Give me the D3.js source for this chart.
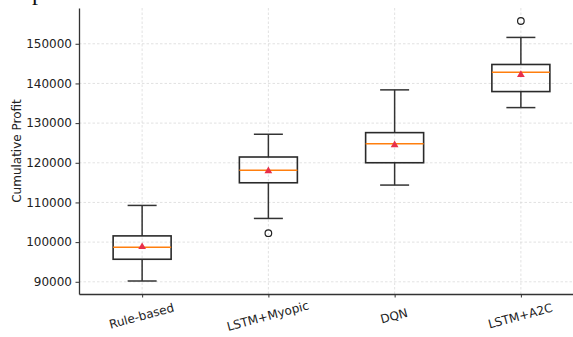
<!DOCTYPE html>
<html>
<head>
<meta charset="utf-8">
<script src="https://cdn.jsdelivr.net/npm/d3@7"></script>
<style>
  body { margin: 0; background: #fff; }
  svg { display: block; font-family: "DejaVu Sans", sans-serif; }
  .axis path, .axis line { stroke: #333; }
  .axis text { fill: #222; font-size: 12px; font-family: "DejaVu Sans", sans-serif; }
</style>
</head>
<body>
<div id="chart"></div>
<script>
var categories = ["Rule-based", "LSTM+Myopic", "DQN", "LSTM+A2C"];
var whiskerLow = [90200, 105970, 114380, 133910];
var q1 = [95680, 114960, 120010, 137950];
var medians = [98700, 118090, 124800, 142850];
var q3 = [101570, 121455, 127600, 144780];
var whiskerHigh = [109250, 127190, 138380, 151600];
var means = [98800, 117950, 124500, 142200];
var outliers = [[], [102250], [], [155740]];
var yTicks = [90000, 100000, 110000, 120000, 130000, 140000, 150000];

var width = 573, height = 337;
var margin = {top: 8, left: 79, bottom: 43};

var svg = d3.select("#chart").append("svg")
    .attr("width", width)
    .attr("height", height);

// x: boxplot positions 1..4, xlim 0.5..4.5 (right side runs past the crop)
var x = d3.scaleLinear().domain([0.5, 4.5]).range([margin.left, 584]);
var y = d3.scaleLinear().domain([86923, 159017]).range([height - margin.bottom, margin.top]);

var data = categories.map(function(c, i) {
  return {
    label: c, pos: i + 1,
    lo: whiskerLow[i], q1: q1[i], med: medians[i], q3: q3[i],
    hi: whiskerHigh[i], mean: means[i], fliers: outliers[i]
  };
});

// stray glyph from the page above the figure
svg.append("text")
    .attr("x", 32).attr("y", 0)
    .style("font-family", "Liberation Serif, serif")
    .style("font-size", "24px")
    .attr("fill", "#111")
    .text("p");

// grid
var grid = svg.append("g").attr("class", "grid");
grid.selectAll("line.h").data(yTicks).enter().append("line")
    .attr("class", "h")
    .attr("x1", margin.left).attr("x2", width)
    .attr("y1", function(d) { return y(d); })
    .attr("y2", function(d) { return y(d); });
grid.selectAll("line.v").data(data).enter().append("line")
    .attr("class", "v")
    .attr("x1", function(d) { return x(d.pos); })
    .attr("x2", function(d) { return x(d.pos); })
    .attr("y1", margin.top).attr("y2", height - margin.bottom);
grid.selectAll("line")
    .attr("stroke", "#dadada")
    .attr("stroke-width", 0.8)
    .attr("stroke-dasharray", "2.5,2");

// boxes
var boxW = 58, capW = 29;
var g = svg.append("g").selectAll("g.box").data(data).enter()
  .append("g").attr("class", "box");

g.append("line")
    .attr("x1", function(d) { return x(d.pos); })
    .attr("x2", function(d) { return x(d.pos); })
    .attr("y1", function(d) { return y(d.hi); })
    .attr("y2", function(d) { return y(d.q3); });
g.append("line")
    .attr("x1", function(d) { return x(d.pos); })
    .attr("x2", function(d) { return x(d.pos); })
    .attr("y1", function(d) { return y(d.q1); })
    .attr("y2", function(d) { return y(d.lo); });
g.append("line")
    .attr("x1", function(d) { return x(d.pos) - capW / 2; })
    .attr("x2", function(d) { return x(d.pos) + capW / 2; })
    .attr("y1", function(d) { return y(d.hi); })
    .attr("y2", function(d) { return y(d.hi); });
g.append("line")
    .attr("x1", function(d) { return x(d.pos) - capW / 2; })
    .attr("x2", function(d) { return x(d.pos) + capW / 2; })
    .attr("y1", function(d) { return y(d.lo); })
    .attr("y2", function(d) { return y(d.lo); });
g.selectAll("line").attr("stroke", "#333").attr("stroke-width", 1.5);

g.append("rect")
    .attr("x", function(d) { return x(d.pos) - boxW / 2; })
    .attr("width", boxW)
    .attr("y", function(d) { return y(d.q3); })
    .attr("height", function(d) { return y(d.q1) - y(d.q3); })
    .attr("fill", "none")
    .attr("stroke", "#2a2a2a")
    .attr("stroke-width", 1.6);

g.append("line")
    .attr("x1", function(d) { return x(d.pos) - boxW / 2; })
    .attr("x2", function(d) { return x(d.pos) + boxW / 2; })
    .attr("y1", function(d) { return y(d.med); })
    .attr("y2", function(d) { return y(d.med); })
    .attr("stroke", "#ff7f0e")
    .attr("stroke-width", 1.5);

g.append("path")
    .attr("d", d3.symbol().type(d3.symbolTriangle).size(26))
    .attr("transform", function(d) { return "translate(" + x(d.pos) + "," + y(d.mean) + ")"; })
    .attr("fill", "#e8304a");

g.selectAll("circle")
    .data(function(d) { return d.fliers.map(function(v) { return {pos: d.pos, v: v}; }); })
    .enter().append("circle")
    .attr("cx", function(d) { return x(d.pos); })
    .attr("cy", function(d) { return y(d.v); })
    .attr("r", 3.3)
    .attr("fill", "none")
    .attr("stroke", "#222")
    .attr("stroke-width", 1.2);

// axes
var yAxis = svg.append("g")
    .attr("class", "axis")
    .attr("transform", "translate(" + margin.left + ",0)")
    .call(d3.axisLeft(y).tickValues(yTicks).tickFormat(d3.format("d"))
      .tickSizeInner(3.5).tickSizeOuter(0).tickPadding(3.5));

var xAxis = svg.append("g")
    .attr("class", "axis")
    .attr("transform", "translate(0," + (height - margin.bottom) + ")")
    .call(d3.axisBottom(x).tickValues([1, 2, 3, 4])
      .tickFormat(function(d) { return categories[d - 1]; })
      .tickSizeInner(3.5).tickSizeOuter(0).tickPadding(3.5));

svg.selectAll(".axis path.domain").attr("stroke-width", 1.3);

xAxis.selectAll("text")
    .attr("text-anchor", "middle")
    .attr("dy", null)
    .attr("y", 0)
    .attr("transform", "translate(0,26) rotate(-15)");

svg.append("text")
    .attr("transform", "translate(21," + ((margin.top + height - margin.bottom) / 2) + ") rotate(-90)")
    .attr("text-anchor", "middle")
    .style("font-size", "12px")
    .attr("fill", "#222")
    .text("Cumulative Profit");
</script>
</body>
</html>
